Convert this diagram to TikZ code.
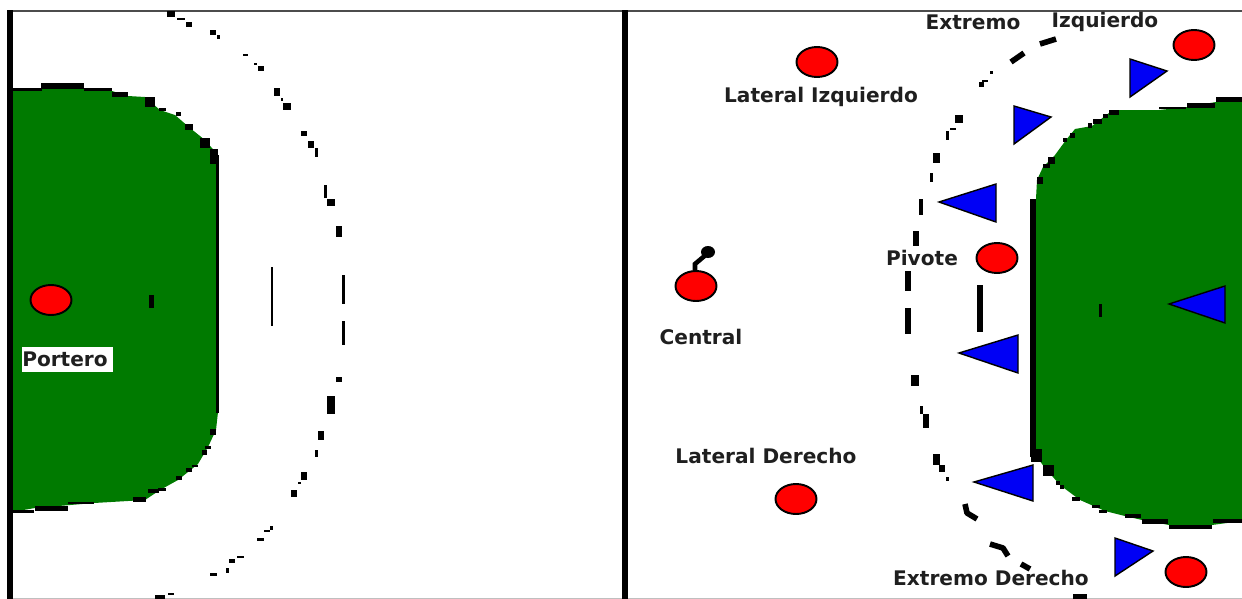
\documentclass[tikz,border=0pt]{standalone}
\usepackage{fontspec}
\setmainfont{DejaVu Sans}
\usetikzlibrary{shapes.geometric}
\definecolor{courtgreen}{RGB}{0,122,0}
\definecolor{playerred}{RGB}{255,0,0}
\definecolor{defblue}{RGB}{0,0,245}
\tikzset{
  player/.style={ellipse,draw=black,fill=playerred,line width=1.1pt,minimum width=0.82cm,minimum height=0.6cm,inner sep=0pt},
  defender/.style={draw=black,fill=defblue,line width=0.8pt,line join=miter},
  playerlabel/.style={font=\bfseries\fontsize{11.45}{13}\selectfont,text=black!88,inner sep=0pt},
  arcline/.style={line width=3.2pt,line join=round},
}
\begin{document}
\begin{tikzpicture}[x=0.02cm,y=-0.02cm]
  \useasboundingbox (0,0) rectangle (1242,599);
  \fill[white] (0,0) rectangle (1242,599);
  %GREEN AREAS
  \fill[courtgreen] (12,90) -- (41,88) -- (84,88) -- (112,91) -- (128,96) -- (145,97) -- (160,110) -- (175,115)
    -- (190,128) -- (205,140) -- (218,155) -- (218,412) -- (216,430) -- (208,447) -- (198,464) -- (178,480)
    -- (160,490) -- (145,500) -- (94,503) -- (35,508) -- (12,512) -- cycle;
  \fill[courtgreen] (1036,199) -- (1037,180) -- (1043,167) -- (1055,155) -- (1066,140) -- (1075,129) -- (1092,126)
    -- (1109,113) -- (1119,110) -- (1159,110) -- (1187,107) -- (1216,102) -- (1242,99) -- (1242,521) -- (1212,525)
    -- (1169,525) -- (1142,520) -- (1125,516) -- (1105,511) -- (1080,500) -- (1060,485) -- (1045,468) -- (1036,456) -- cycle;
  %EDGES OF THE GREEN AREAS
  \foreach \x/\y/\w/\h in {27/89/29/3,62/86/43/6,98/89/28/3,120/94/16/5,150/102/10/10,162/109/7/3,178/114/5/4,
      189/127/8/6,205/143/10/10,214/156/8/15,217/284/3/258,213/432/6/6,208/447/6/3,204/452/5/5,195/466/6/2,
      189/470/6/4,179/478/6/4,162/489/8/3,153/491/11/4,139/499/13/5,81/503/26/2,51/508/33/5,23/511/21/3,
      1033/328/6/258,1040/180/6/7,1046/166/7/4,1051/160/7/7,1065/140/4/4,1072/135/5/5,1090/125/4/5,1097/121/9/5,
      1105/116/5/4,1114/112/10/5,1172/108/27/2,1201/105/28/5,1229/99/27/5,1036/455/11/13,1048/470/11/11,
      1058/483/4/4,1062/487/4/4,1076/499/8/4,1096/506/8/3,1103/511/8/3,1133/516/16/4,1155/521/26/5,1190/527/43/4,1227/521/29/4}{
    \fill[black] (\x-\w/2,\y-\h/2) rectangle ++(\w,\h);
  }
  %FRAME
  \fill[black!70] (7,10) rectangle (1242,12);
  \fill[black!25] (7,597.5) rectangle (1242,599);
  \fill[black] (7,10) rectangle (13,599);
  \fill[black] (622,10) rectangle (628,599);
  %LEFT ARC
  \foreach \x/\y/\w/\h in {171/14/8/6,181/19/8/2,189/24/6/5,213/32/6/5,218/37/3/4,245/55/5/2,255/64/3/2,261/68/6/5,
      277/92/6/8,282/99/2/3,287/106/8/7,304/133/6/5,311/144/6/7,316/152/3/9,325/191/3/13,331/202/8/7,339/231/6/11,
      343/289/3/29,343/333/3/24,339/379/6/5,331/405/8/18,321/435/6/9,316/453/3/7,304/476/6/8,299/483/3/2,294/493/6/7,
      271/528/3/4,267/531/6/2,260/539/7/3,240/557/7/2,232/561/6/4,227/570/3/5,213/574/7/3,171/594/6/2,160/597/10/4}{
    \fill[black] (\x-\w/2,\y-\h/2) rectangle ++(\w,\h);
  }
  %RIGHT ARC
  \foreach \x/\y/\w/\h in {981/84/5/5,985/81/6/2,991/72/3/3,959/119/8/8,947/135/3/9,953/129/6/2,936/158/7/10,931/177/3/9,
      921/207/4/16,916/238/6/15,908/281/6/20,908/321/6/26,915/380/8/11,921/410/3/8,926/421/6/14,936/459/7/11,942/468/6/7,947/479/3/4,
      1080/597/14/6}{
    \fill[black] (\x-\w/2,\y-\h/2) rectangle ++(\w,\h);
  }
  \draw[arcline] (1040,44) -- (1056,39);
  \draw[arcline] (1011,62) -- (1024,53);
  \draw[arcline] (965,504) -- (967,513) -- (977,519);
  \draw[arcline] (990,544) -- (1003,548) -- (1008,556);
  \draw[arcline] (1021,564) -- (1030,569);
  %LINES AND GOAL MARKS
  \fill[black] (149,295) rectangle (154,308);
  \fill[black] (270.5,267) rectangle (273,326);
  \fill[black] (977,285) rectangle (983,332);
  \fill[black] (1099,304) rectangle (1102,317);
  %DEFENDERS
  \draw[defender] (1130,59) -- (1167,71) -- (1130,97) -- cycle;
  \draw[defender] (1014,106) -- (1051,117) -- (1014,144) -- cycle;
  \draw[defender] (939,202) -- (996,184) -- (996,222) -- cycle;
  \draw[defender] (1169,304) -- (1225,286) -- (1225,323) -- cycle;
  \draw[defender] (959,353) -- (1018,335) -- (1018,373) -- cycle;
  \draw[defender] (974,482) -- (1033,465) -- (1033,501) -- cycle;
  \draw[defender] (1115,538) -- (1153,551) -- (1115,576) -- cycle;
  %BALL
  \draw[black,line width=2.6pt] (695,271) -- (695,264) -- (708,253);
  \fill[black] (708,252) ellipse (7 and 6);
  %PLAYERS
  \node[player] (portero) at (51,300) {};
  \node[player] (lizq) at (817,62) {};
  \node[player] (eizq) at (1194,45) {};
  \node[player] (pivote) at (997,258) {};
  \node[player] (central) at (696,286) {};
  \node[player] (lder) at (796,499) {};
  \node[player] (eder) at (1186,572) {};
  %LABELS
  \fill[white] (22,347) rectangle (113,372);
  \node[playerlabel] (tportero) at (65,359) {Portero};
  \node[playerlabel] (tlizq) at (821,97) {Lateral Izquierdo};
  \node[playerlabel] (tezq) at (973,22) {Extremo};
  \node[playerlabel] (tizq) at (1105,22) {Izquierdo};
  \node[playerlabel] (tpivote) at (922,258) {Pivote};
  \node[playerlabel] (tcentral) at (701,337) {Central};
  \node[playerlabel] (tlder) at (766,456) {Lateral Derecho};
  \node[playerlabel] (teder) at (991,578) {Extremo Derecho};
\end{tikzpicture}
\end{document}
